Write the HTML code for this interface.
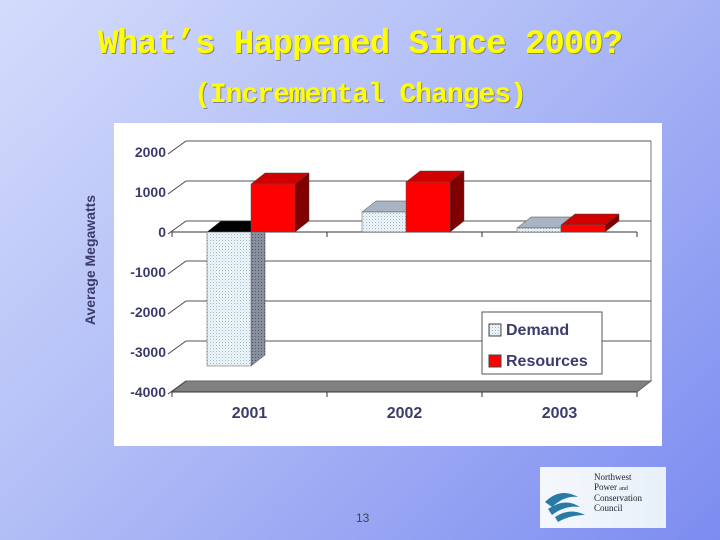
<!DOCTYPE html>
<html><head><meta charset="utf-8"><style>
body{margin:0}
#slide{position:relative;width:720px;height:540px;overflow:hidden;background:linear-gradient(135deg,#d4dcfc 0%,#b0bcf6 45%,#7c8cf0 100%);font-family:"Liberation Sans",sans-serif}
.t{position:absolute;left:0;width:720px;text-align:center;color:#ffff00;font-weight:bold;font-family:"Liberation Mono","Noto Sans CJK JP",monospace;text-shadow:1px 1px 0 #8080a0}
</style></head><body>
<div id="slide">
<div class="t" style="top:26px;font-size:34px;letter-spacing:-1px">What’s Happened Since 2000?</div>
<div class="t" style="top:80px;font-size:28px;letter-spacing:-1px">(Incremental Changes)</div>
<svg id="chart" width="720" height="540" style="position:absolute;left:0;top:0">
<defs>
<pattern id="dots" width="3" height="3" patternUnits="userSpaceOnUse"><rect width="3" height="3" fill="#eef6fa"/><rect width="1" height="1" fill="#9ab8c8"/><rect x="1.5" y="1.5" width="1" height="1" fill="#c0d4de"/></pattern>
<pattern id="dotsD" width="3" height="3" patternUnits="userSpaceOnUse"><rect width="3" height="3" fill="#8890a0"/><rect width="1" height="1" fill="#505868"/></pattern>
</defs>
<rect x="114" y="123" width="548" height="323" fill="#fff"/>
<g id="g"></g>
<text x="95" y="260" transform="rotate(-90 95 260)" text-anchor="middle" font-size="14" font-weight="bold" fill="#3c3c6c">Average Megawatts</text>
</svg>
<div style="position:absolute;left:540px;top:467px;width:126px;height:61px;background:linear-gradient(90deg,#f4f8fc,#e8f0fa)">
<svg width="126" height="61"><path d="M5 35 Q20 20 38 30 Q25 28 12 40Z M8 42 Q25 30 40 40 Q25 38 12 48Z M15 50 Q30 40 45 48 Q30 48 18 55Z" fill="#2a7aa8"/></svg>
<div style="position:absolute;left:54px;top:6px;font:9px/9.5px 'Liberation Serif',serif;color:#223">Northwest<br>Power <span style="font-size:6px">and</span><br>Conservation<br>Council</div>
</div>
<div style="position:absolute;left:356px;top:511px;font-size:12px;color:#444">13</div>
</div>
<script>
const categories=["2001","2002","2003"];
const demand=[-3350,500,100];
const resources=[1200,1250,175];
const ticks=[2000,1000,0,-1000,-2000,-3000,-4000];
const NS="http://www.w3.org/2000/svg",g=document.getElementById('g');
const y0=232,ppu=0.04,dx=14,dy=-11,x0=172,cw=155;
const Y=v=>y0-v*ppu, X=i=>x0+i*cw;
function el(t,a){const e=document.createElementNS(NS,t);for(const k in a)e.setAttribute(k,a[k]);g.appendChild(e);return e;}
// back wall gridlines
for(const t of ticks){
 if(t===-4000)continue;
 const l=el('line',{x1:X(0)+dx,x2:X(3)+dx,y1:Y(t)+dy,y2:Y(t)+dy,stroke:'#555','stroke-width':1});
 
}
el('line',{x1:X(3)+dx,x2:X(3)+dx,y1:Y(2000)+dy,y2:Y(-4000)+dy,stroke:'#777'});
// floor
const fl=el('polygon',{points:`${X(0)},${Y(-4000)} ${X(3)},${Y(-4000)} ${X(3)+dx},${Y(-4000)+dy} ${X(0)+dx},${Y(-4000)+dy}`,fill:'#808080',stroke:'#666'});

// zero line front and y ticks
el('line',{x1:X(0),x2:X(3),y1:y0,y2:y0,stroke:'#333'});
for(const t of ticks){
 el('line',{x1:X(0)-4,x2:X(0)+dx,y1:Y(t)+2,y2:Y(t)+dy,stroke:'#444'});
 const tx=el('text',{x:166,y:Y(t)+5,'text-anchor':'end','font-size':14,'font-weight':'bold',fill:'#3c3c6c'});
 tx.textContent=t;
 
}
for(let i=0;i<=3;i++){el('line',{x1:X(i),x2:X(i),y1:y0,y2:y0+5,stroke:'#333'});el('line',{x1:X(i),x2:X(i),y1:Y(-4000),y2:Y(-4000)+5,stroke:'#333'});}
el('line',{x1:X(0),x2:X(3),y1:Y(-4000),y2:Y(-4000),stroke:'#333'});
categories.forEach((c,i)=>{
 const tx=el('text',{x:X(i)+cw/2,y:418,'text-anchor':'middle','font-size':16,'font-weight':'bold',fill:'#3c3c6c'});
 tx.textContent=c;
 
});
function bar(x,w,v,front,side,top,name){
 const a=Y(Math.max(v,0)),b=Y(Math.min(v,0));
 const topc=v<0?'#000':top;
 const s=el('polygon',{points:`${x+w},${a} ${x+w+dx},${a+dy} ${x+w+dx},${b+dy} ${x+w},${b}`,fill:side,stroke:'#444','stroke-width':.5});
 const t=el('polygon',{points:`${x},${a} ${x+dx},${a+dy} ${x+w+dx},${a+dy} ${x+w},${a}`,fill:topc,stroke:'#444','stroke-width':.5});
 const f=el('rect',{x:x,y:a,width:w,height:b-a,fill:front,stroke:'#555','stroke-width':.5});
 
}
categories.forEach((c,i)=>{
 const bx=X(i)+35;
 bar(bx,44,demand[i],'url(#dots)','url(#dotsD)','#a8b4c4','bar-demand-'+c);
 bar(bx+44,44,resources[i],'#ff0000','#800000','#d00000','bar-resources-'+c);
});
// legend
const lg=el('rect',{x:482,y:312,width:120,height:62,fill:'#fff',stroke:'#555'});

[['Demand','url(#dots)',335],['Resources','#ff0000',366]].forEach(([n,f,y])=>{
 el('rect',{x:489,y:y-11,width:12,height:12,fill:f,stroke:'#444'});
 const tx=el('text',{x:506,y:y,'font-size':16,'font-weight':'bold',fill:'#3c3c6c'});
 tx.textContent=n;
 
});
</script>
</body></html>
